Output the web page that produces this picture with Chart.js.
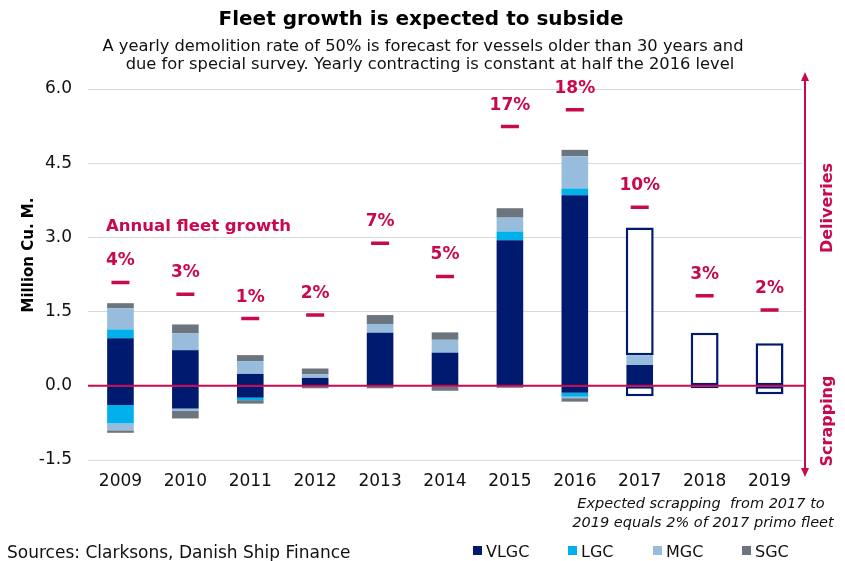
<!DOCTYPE html>
<html>
<head>
<meta charset="utf-8">
<title>Fleet growth is expected to subside</title>
<script src="https://cdn.jsdelivr.net/npm/chart.js@4/dist/chart.umd.min.js"></script>
<style>
  html, body { margin: 0; padding: 0; background: #fff; }
  #wrap { width: 845px; height: 561px; }
</style>
</head>
<body>
<div id="wrap"><canvas id="fleetChart" width="845" height="561"></canvas></div>
<script>
// Categories and values (million cu. m.)
const years = ['2009', '2010', '2011', '2012', '2013', '2014', '2015', '2016', '2017', '2018', '2019'];

// Deliveries (positive)
const vlgcDel = [0.96, 0.72, 0.24, 0.16, 1.07, 0.67, 2.94, 3.85, 0.42, 0, 0];
const lgcDel  = [0.18, 0, 0, 0, 0, 0, 0.18, 0.14, 0, 0, 0];
const mgcDel  = [0.43, 0.34, 0.26, 0.07, 0.18, 0.26, 0.28, 0.65, 0.20, 0, 0];
const sgcDel  = [0.10, 0.18, 0.12, 0.12, 0.18, 0.15, 0.19, 0.13, 0, 0, 0];

// Scrapping (negative)
const vlgcScr = [-0.39, -0.46, -0.24, 0, 0, 0, 0, -0.14, 0, 0, 0];
const lgcScr  = [-0.37, 0, -0.05, 0, 0, 0, 0, -0.08, 0, 0, 0];
const mgcScr  = [-0.14, -0.05, 0, 0, 0, 0, 0, -0.03, 0, 0, 0];
const sgcScr  = [-0.05, -0.15, -0.07, -0.05, -0.05, -0.10, -0.04, -0.07, 0, 0, 0];

// Forecast (outlined bars)
const forecastDel = [null, null, null, null, null, null, null, null, 2.58, 1.07, 0.86];
const forecastScr = [null, null, null, null, null, null, null, null, -0.21, -0.05, -0.17];

// Annual fleet growth markers
const growthPos    = [2.09, 1.85, 1.36, 1.43, 2.88, 2.21, 5.24, 5.58, 3.61, 1.82, 1.53];
const growthLabels = ['4%', '3%', '1%', '2%', '7%', '5%', '17%', '18%', '10%', '3%', '2%'];

const yTicks = [-1.5, 0, 1.5, 3, 4.5, 6];

const NAVY = '#001a70';
const CYAN = '#00b0eb';
const LIGHT = '#98bcdc';
const GREY = '#6c747e';
const RED = '#c8084f';
const FONT = '"DejaVu Sans", Verdana, sans-serif';

function barSet(label, data, color) {
  return {
    type: 'bar', label: label, data: data, backgroundColor: color,
    borderWidth: 0, stack: 'fleet',
    categoryPercentage: 1, barPercentage: 0.41
  };
}

function outlineSet(label, data) {
  return {
    type: 'bar', label: label, data: data, backgroundColor: '#ffffff',
    borderColor: NAVY, borderWidth: 2.5, borderSkipped: false, stack: 'fleet',
    categoryPercentage: 1, barPercentage: 0.43
  };
}

// Texts, zero line, arrow and legend drawn on top of the chart
const decorations = {
  id: 'decorations',
  afterDatasetsDraw(chart) {
    const ctx = chart.ctx;
    const area = chart.chartArea;
    const zero = chart.scales.y.getPixelForValue(0);

    // zero line over the bars
    ctx.save();
    ctx.strokeStyle = RED;
    ctx.lineWidth = 2;
    ctx.beginPath();
    ctx.moveTo(area.left, zero);
    ctx.lineTo(806, zero);
    ctx.stroke();
    ctx.restore();
  },
  afterDraw(chart) {
    const ctx = chart.ctx;
    ctx.save();

    // title + subtitle
    ctx.fillStyle = '#000';
    ctx.textAlign = 'center';
    ctx.textBaseline = 'alphabetic';
    ctx.font = 'bold 20px ' + FONT;
    ctx.fillText('Fleet growth is expected to subside', 421, 25);
    ctx.fillStyle = '#111';
    ctx.font = '16.3px ' + FONT;
    ctx.fillText('A yearly demolition rate of 50% is forecast for vessels older than 30 years and', 423, 51);
    ctx.fillText('due for special survey. Yearly contracting is constant at half the 2016 level', 430, 69);

    // y axis title
    ctx.save();
    ctx.translate(33, 255);
    ctx.rotate(-Math.PI / 2);
    ctx.font = 'bold 15px ' + FONT;
    ctx.fillStyle = '#000';
    ctx.textAlign = 'center';
    ctx.fillText('Million Cu. M.', 0, 0);
    ctx.restore();

    // growth labels
    ctx.fillStyle = RED;
    ctx.font = 'bold 16.5px ' + FONT;
    ctx.textAlign = 'left';
    ctx.fillText('Annual fleet growth', 106, 231);
    ctx.font = 'bold 17px ' + FONT;
    ctx.textAlign = 'center';
    const meta = chart.getDatasetMeta(chart.data.datasets.length - 1);
    meta.data.forEach(function(pt, i) {
      ctx.fillText(growthLabels[i], pt.x, pt.y - 17);
    });

    // double arrow on the right
    const ax = 805, top = 72, bottom = 477;
    ctx.strokeStyle = RED;
    ctx.fillStyle = RED;
    ctx.lineWidth = 2;
    ctx.beginPath();
    ctx.moveTo(ax, top + 6);
    ctx.lineTo(ax, bottom - 6);
    ctx.stroke();
    ctx.beginPath();
    ctx.moveTo(ax, top); ctx.lineTo(ax - 4, top + 9); ctx.lineTo(ax + 4, top + 9); ctx.closePath();
    ctx.fill();
    ctx.beginPath();
    ctx.moveTo(ax, bottom); ctx.lineTo(ax - 4, bottom - 9); ctx.lineTo(ax + 4, bottom - 9); ctx.closePath();
    ctx.fill();

    ctx.font = 'bold 16px ' + FONT;
    ctx.textAlign = 'center';
    ctx.textBaseline = 'middle';
    [['Deliveries', 208], ['Scrapping', 421]].forEach(function(t) {
      ctx.save();
      ctx.translate(828, t[1]);
      ctx.rotate(-Math.PI / 2);
      ctx.fillText(t[0], 0, 0);
      ctx.restore();
    });

    // note
    ctx.textBaseline = 'alphabetic';
    ctx.fillStyle = '#111';
    ctx.font = 'italic 14.5px ' + FONT;
    ctx.fillText('Expected scrapping  from 2017 to', 701, 508);
    ctx.fillText('2019 equals 2% of 2017 primo fleet', 703, 527);

    // sources
    ctx.textAlign = 'left';
    ctx.font = '17px ' + FONT;
    ctx.fillStyle = '#111';
    ctx.fillText('Sources: Clarksons, Danish Ship Finance', 7, 558);

    // legend
    ctx.font = '16px ' + FONT;
    const items = [['VLGC', NAVY, 473], ['LGC', CYAN, 568], ['MGC', LIGHT, 653], ['SGC', GREY, 742]];
    items.forEach(function(it) {
      ctx.fillStyle = it[1];
      ctx.fillRect(it[2], 546, 9, 9);
      ctx.fillStyle = '#111';
      ctx.fillText(it[0], it[2] + 13, 557);
    });

    ctx.restore();
  }
};

const ctx = document.getElementById('fleetChart').getContext('2d');
const chart = new Chart(ctx, {
  data: {
    labels: years,
    datasets: [
      barSet('VLGC', vlgcDel, NAVY),
      barSet('LGC', lgcDel, CYAN),
      barSet('MGC', mgcDel, LIGHT),
      barSet('SGC', sgcDel, GREY),
      outlineSet('Forecast deliveries', forecastDel),
      barSet('VLGC scrapping', vlgcScr, NAVY),
      barSet('LGC scrapping', lgcScr, CYAN),
      barSet('MGC scrapping', mgcScr, LIGHT),
      barSet('SGC scrapping', sgcScr, GREY),
      outlineSet('Forecast scrapping', forecastScr),
      {
        type: 'line', label: 'Annual fleet growth', data: growthPos,
        stack: 'growth', showLine: false,
        pointStyle: 'line', pointRadius: 9, pointHoverRadius: 9,
        borderColor: RED, backgroundColor: RED, pointBorderWidth: 3.5
      }
    ]
  },
  options: {
    responsive: false,
    devicePixelRatio: 1,
    animation: false,
    layout: { padding: { left: 0, right: 43, top: 89, bottom: 0 } },
    plugins: {
      legend: { display: false },
      tooltip: { enabled: false },
      title: { display: false }
    },
    scales: {
      x: {
        stacked: true,
        grid: { display: false, drawTicks: false },
        border: { display: false },
        ticks: { color: '#111', font: { family: FONT, size: 17 }, padding: 11 },
        afterFit: function(s) { s.height = 101; }
      },
      y: {
        stacked: true,
        min: -1.5, max: 6,
        afterBuildTicks: function(s) { s.ticks = yTicks.map(function(v) { return { value: v }; }); },
        grid: {
          drawTicks: false,
          color: function(c) { return c.tick && c.tick.value === 0 ? 'rgba(0,0,0,0)' : '#d9d9d9'; },
          lineWidth: 1
        },
        border: { display: false },
        ticks: {
          color: '#111', font: { family: FONT, size: 17 }, padding: 16,
          callback: function(v) { return Number(v).toFixed(1); }
        },
        afterFit: function(s) { s.width = 88; }
      }
    }
  },
  plugins: [decorations]
});
</script>
</body>
</html>
